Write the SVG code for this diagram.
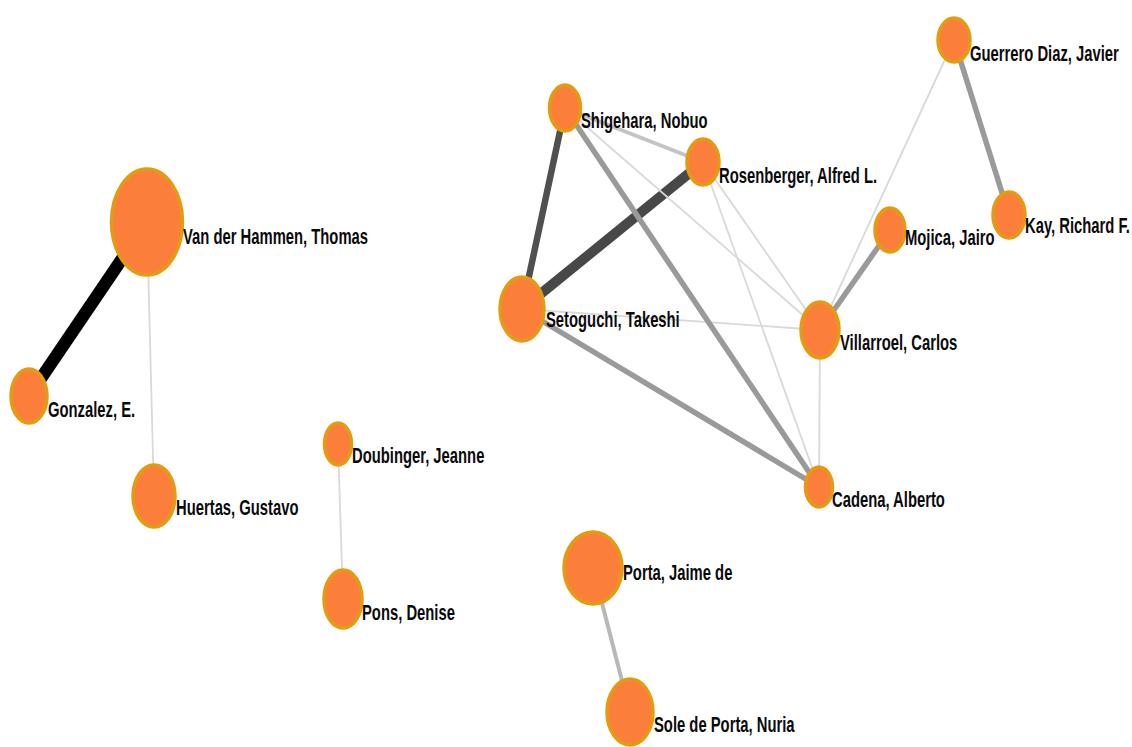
<svg xmlns="http://www.w3.org/2000/svg" width="1132" height="747" viewBox="0 0 1132 747">
<style>
.n{fill:#fb7f3a;stroke:#e39c12;stroke-width:3.5}
.t{font-family:"Liberation Sans",Arial,sans-serif;font-weight:bold;font-size:14.8px;fill:#0a0a0a}
.e{fill:none;stroke-linecap:butt}
.lt{stroke:#d9d9d9;stroke-width:1.8}
.md{stroke:#9a9a9a;stroke-width:5.5}
</style>
<rect width="1132" height="747" fill="#ffffff"/>
<g id="edges">
<line class="e" x1="147" y1="222" x2="29" y2="396" stroke="#000" stroke-width="12.5"/>
<line class="e" x1="522" y1="309" x2="565" y2="108" stroke="#505050" stroke-width="6.5"/>
<line class="e" x1="522" y1="309" x2="703" y2="162" stroke="#484848" stroke-width="10"/>
<line class="e lt" x1="147" y1="222" x2="154" y2="496"/>
<line class="e lt" x1="338" y1="444" x2="343" y2="599"/>
<line class="e lt" x1="565" y1="108" x2="820" y2="330"/>
<line class="e lt" x1="703" y1="162" x2="820" y2="330"/>
<line class="e lt" x1="703" y1="162" x2="819" y2="487"/>
<line class="e lt" x1="522" y1="309" x2="820" y2="330"/>
<line class="e lt" x1="820" y1="330" x2="954" y2="40"/>
<line class="e lt" x1="820" y1="330" x2="819" y2="487"/>
<line class="e" x1="565" y1="108" x2="703" y2="162" stroke="#c4c4c4" stroke-width="4"/>
<line class="e" x1="593" y1="568" x2="630" y2="712" stroke="#b8b8b8" stroke-width="4"/>
<line class="e md" x1="565" y1="108" x2="819" y2="487"/>
<line class="e md" x1="522" y1="309" x2="819" y2="487"/>
<line class="e md" x1="820" y1="330" x2="890" y2="230" stroke="#a0a0a0"/>
<line class="e md" x1="954" y1="40" x2="1009" y2="215"/>
</g>
<g id="n-vanderhammen"><ellipse class="n" cx="147" cy="222" rx="35.5" ry="53"/><text class="t" transform="translate(183,244) scale(1,1.55)">Van der Hammen, Thomas</text></g>
<g id="n-gonzalez"><ellipse class="n" cx="29" cy="396" rx="18" ry="27"/><text class="t" transform="translate(48,417) scale(1,1.55)">Gonzalez, E.</text></g>
<g id="n-huertas"><ellipse class="n" cx="154" cy="496" rx="21" ry="31"/><text class="t" transform="translate(176,515) scale(1,1.55)">Huertas, Gustavo</text></g>
<g id="n-doubinger"><ellipse class="n" cx="338" cy="444" rx="13.5" ry="21"/><text class="t" transform="translate(352,463) scale(1,1.55)">Doubinger, Jeanne</text></g>
<g id="n-pons"><ellipse class="n" cx="343" cy="599" rx="19" ry="29"/><text class="t" transform="translate(362,620) scale(1,1.55)">Pons, Denise</text></g>
<g id="n-porta"><ellipse class="n" cx="593" cy="568" rx="29" ry="36"/><text class="t" transform="translate(623,580) scale(1,1.55)">Porta, Jaime de</text></g>
<g id="n-soledeporta"><ellipse class="n" cx="630" cy="712" rx="23" ry="33"/><text class="t" transform="translate(654,732) scale(1,1.55)">Sole de Porta, Nuria</text></g>
<g id="n-shigehara"><ellipse class="n" cx="565" cy="108" rx="15.5" ry="23"/><text class="t" transform="translate(581,128) scale(1,1.55)">Shigehara, Nobuo</text></g>
<g id="n-rosenberger"><ellipse class="n" cx="703" cy="162" rx="16" ry="23"/><text class="t" transform="translate(719,183) scale(1,1.55)">Rosenberger, Alfred L.</text></g>
<g id="n-setoguchi"><ellipse class="n" cx="522" cy="309" rx="22" ry="32"/><text class="t" transform="translate(546,327) scale(1,1.55)">Setoguchi, Takeshi</text></g>
<g id="n-villarroel"><ellipse class="n" cx="820" cy="330" rx="19" ry="28"/><text class="t" transform="translate(840,350) scale(1,1.55)">Villarroel, Carlos</text></g>
<g id="n-mojica"><ellipse class="n" cx="890" cy="230" rx="15" ry="22"/><text class="t" transform="translate(905,245) scale(1,1.55)">Mojica, Jairo</text></g>
<g id="n-guerrero"><ellipse class="n" cx="954" cy="40" rx="16" ry="22"/><text class="t" transform="translate(970,61) scale(1,1.55)">Guerrero Diaz, Javier</text></g>
<g id="n-kay"><ellipse class="n" cx="1009" cy="215" rx="16" ry="23"/><text class="t" transform="translate(1025,233) scale(1,1.55)">Kay, Richard F.</text></g>
<g id="n-cadena"><ellipse class="n" cx="819" cy="487" rx="13.5" ry="20"/><text class="t" transform="translate(832,507) scale(1,1.55)">Cadena, Alberto</text></g>
</svg>
